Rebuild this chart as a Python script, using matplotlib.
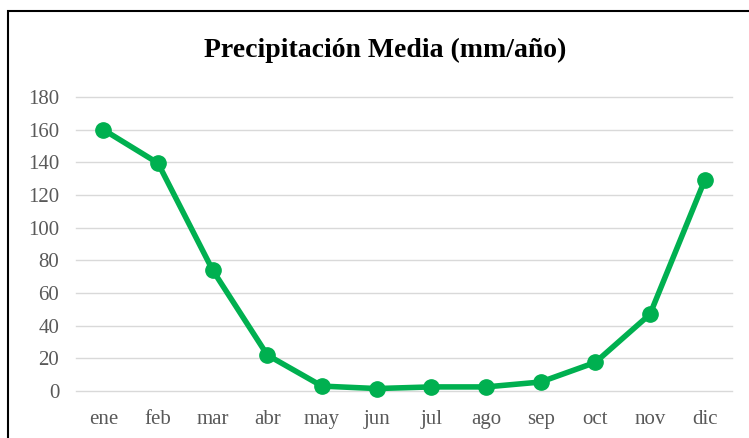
import matplotlib.pyplot as plt
from matplotlib.patches import Rectangle

# Monthly data
months = ['ene', 'feb', 'mar', 'abr', 'may', 'jun', 'jul', 'ago', 'sep', 'oct', 'nov', 'dic']
precip = [160, 139.5, 74, 22, 3, 1.5, 2.5, 2.5, 5.5, 17.5, 47, 129]
yticks = [0, 20, 40, 60, 80, 100, 120, 140, 160, 180]

plt.rcParams['font.family'] = ['Liberation Serif', 'DejaVu Serif']

fig = plt.figure(figsize=(7.49, 4.38), dpi=100)
ax = fig.add_axes([76 / 749, 1 - 391 / 438, (732 - 76) / 749, (391 - 97) / 438])

x = list(range(len(months)))
ax.plot(x, precip, color='#00B050', linewidth=4, marker='o', markersize=11,
        solid_capstyle='round', solid_joinstyle='round', zorder=3, clip_on=False)

ax.set_xlim(-0.5, len(months) - 0.5)
ax.set_ylim(0, 180)
ax.set_yticks(yticks)
ax.set_xticks(x)
ax.set_xticklabels(months)
ax.grid(axis='y', color='#D9D9D9', linewidth=1)
for gl in ax.get_ygridlines():
    gl.set_clip_on(False)
ax.set_axisbelow(True)
for s in ax.spines.values():
    s.set_visible(False)
ax.tick_params(axis='both', length=0, labelsize=15, labelcolor='#595959')
ax.tick_params(axis='y', pad=12)
ax.tick_params(axis='x', pad=14)

fig.text(385 / 749, 1 - 50 / 438, 'Precipitación Media (mm/año)', ha='center', va='center',
         fontsize=20, fontweight='bold', color='black')

# chart border
fig.patches.append(Rectangle((8 / 749, -0.1), 1.2, 1.1 - 11 / 438, transform=fig.transFigure,
                             fill=False, edgecolor='black', linewidth=1.5))

fig.savefig('out.png', dpi=100)
